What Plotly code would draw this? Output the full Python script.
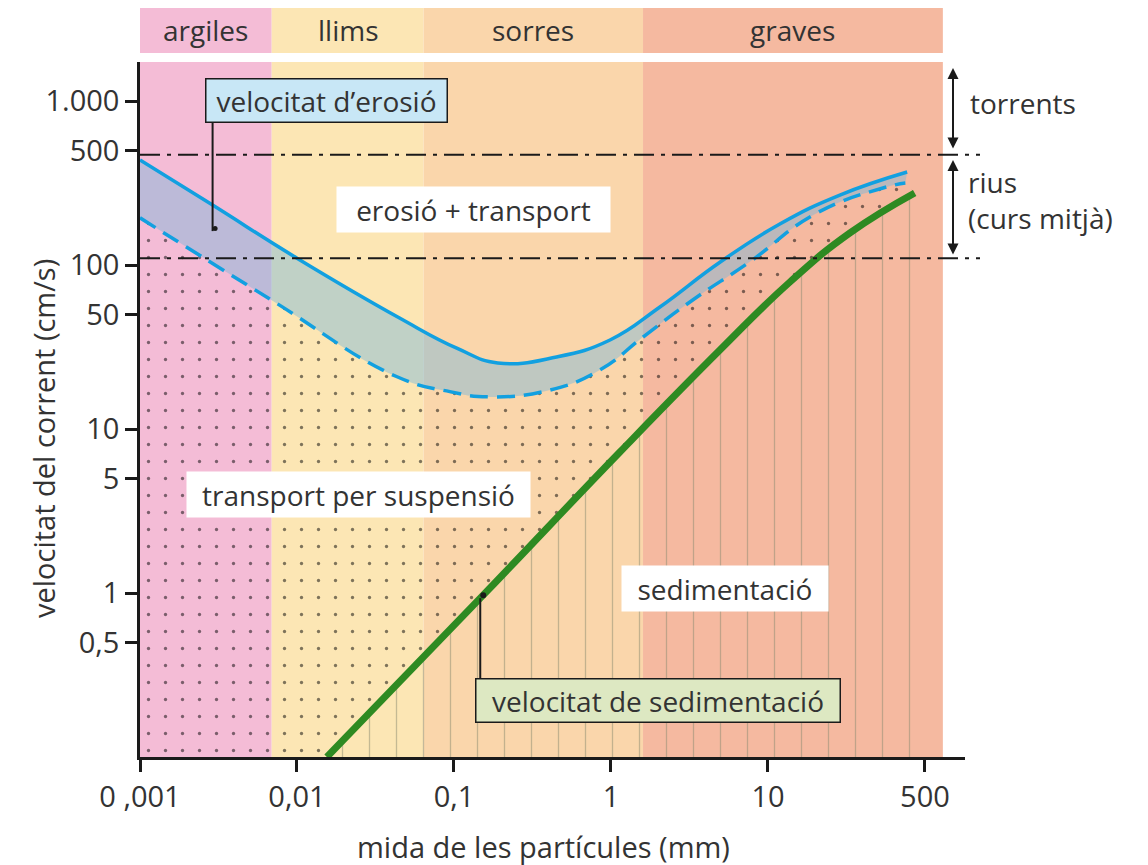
import math
import plotly.graph_objects as go

# ---------------- data ----------------
categories = ["argiles", "llims", "sorres", "graves"]
band_edges = [0.001, 0.0069, 0.064, 1.6, 130]          # mm
band_colors = ["#F4BCD6", "#FCE6B4", "#FAD6AB", "#F5B9A0"]

x_tickvals = [0.001, 0.01, 0.1, 1, 10, 100]
x_ticktext = ["0 ,001", "0,01", "0,1", "1", "10", "500"]
y_tickvals = [1000, 500, 100, 50, 10, 5, 1, 0.5]
y_ticktext = ["1.000", "500", "100", "50", "10", "5", "1", "0,5"]

# erosion velocity (upper, solid blue)
eros_x = [0.001, 0.0029, 0.01, 0.045, 0.105, 0.19, 0.45, 0.986, 2.05, 4.94, 11.9, 28.7, 77]
eros_y = [437, 232, 110, 47.5, 31, 25.3, 27.5, 34.9, 55.5, 104, 178, 267, 369]

# lower limit of erosion (dashed blue)
low_x = [0.001, 0.0069, 0.043, 0.094, 0.17, 0.41, 0.85, 1.6, 3.3, 7.7, 20, 54, 75]
low_y = [194, 61, 20.9, 16.9, 15.7, 17.3, 22.9, 36.4, 61, 105, 205, 295, 316]

# sedimentation velocity (green)
sed_x = [0.0155, 0.147, 1.14, 4.94, 13.8, 33.3, 86]
sed_y = [0.1, 0.93, 7.24, 30.3, 78.8, 157, 275]
hatch_end_x = 96

# river regime limits (dash-dot)
regime_limits = [470, 110]

X_MIN, Y_MIN = 0.001, 0.1
X_RANGE = [-3, 2.255]
Y_RANGE = [-1, 3.238]

FONT = "Open Sans"
TXT = "#333333"
BLUE = "#12A0E0"
GREEN = "#2E8A22"
INK = "#1a1a1a"
SMOOTH = 1.3

# page offset (browser body margin) -> plot area at window px 140..965 x 62..757
OFF = 8
L, T, PW, PH = 140 - OFF, 62 - OFF, 825, 695
W, H = 1140, 857


def px(xw):   # window x pixel -> paper x
    return (xw - 140) / PW


def py(yw):   # window y pixel -> paper y
    return (757 - yw) / PH


fig = go.Figure()

# helper boundary: bottom-left corner + sedimentation line
fig.add_trace(go.Scatter(x=[X_MIN] + sed_x, y=[Y_MIN] + sed_y, mode="lines",
                         line=dict(width=0), hoverinfo="skip", showlegend=False))
# stippled zone below dashed curve, above green line
fig.add_trace(go.Scatter(x=low_x, y=low_y, mode="lines", fill="tonexty",
                         line=dict(width=0, shape="spline", smoothing=SMOOTH),
                         fillcolor="rgba(0,0,0,0)",
                         fillpattern=dict(shape=".", fgcolor="#000000", size=17, solidity=0.03),
                         hoverinfo="skip", showlegend=False))
# band between erosion curves
fig.add_trace(go.Scatter(x=eros_x, y=eros_y, mode="lines", fill="tonexty",
                         line=dict(width=0, shape="spline", smoothing=SMOOTH),
                         fillcolor="rgba(120,185,220,0.45)",
                         hoverinfo="skip", showlegend=False))
# hatched sedimentation zone
fig.add_trace(go.Scatter(x=sed_x + [hatch_end_x, hatch_end_x],
                         y=sed_y + [sed_y[-1], Y_MIN],
                         mode="lines", fill="toself", line=dict(width=0),
                         fillcolor="rgba(0,0,0,0)",
                         fillpattern=dict(shape="|", fgcolor="#8C8C72", size=27, solidity=0.05),
                         hoverinfo="skip", showlegend=False))
# visible lines
fig.add_trace(go.Scatter(x=low_x, y=low_y, mode="lines",
                         line=dict(color=BLUE, width=3.5, shape="spline", smoothing=SMOOTH,
                                   dash="18px,9px"),
                         hoverinfo="skip", showlegend=False))
fig.add_trace(go.Scatter(x=eros_x, y=eros_y, mode="lines",
                         line=dict(color=BLUE, width=3.5, shape="spline", smoothing=SMOOTH),
                         hoverinfo="skip", showlegend=False))
fig.add_trace(go.Scatter(x=sed_x, y=sed_y, mode="lines",
                         line=dict(color=GREEN, width=7, shape="spline", smoothing=SMOOTH),
                         hoverinfo="skip", showlegend=False))

shapes = []
for i, c in enumerate(categories):
    shapes.append(dict(type="rect", xref="x", yref="paper", x0=band_edges[i], x1=band_edges[i + 1],
                       y0=0, y1=1, fillcolor=band_colors[i], line=dict(width=0), layer="below"))
    shapes.append(dict(type="rect", xref="x", yref="paper", x0=band_edges[i], x1=band_edges[i + 1],
                       y0=py(53), y1=py(8), fillcolor=band_colors[i], line=dict(width=0),
                       layer="below"))
for v in regime_limits:
    shapes.append(dict(type="line", xref="paper", yref="y", x0=0, x1=px(980), y0=v, y1=v,
                       line=dict(color=INK, width=2, dash="20px,7px,4px,7px")))
shapes.append(dict(type="line", xref="x", yref="y", x0=0.0029, x1=0.0029, y0=161, y1=735,
                   line=dict(color=INK, width=2)))
shapes.append(dict(type="line", xref="x", yref="y", x0=0.147, x1=0.147, y0=0.93, y1=0.303,
                   line=dict(color=INK, width=2)))
for (ax_, ay_, r) in [(0.0029, 161, 5), (0.147, 0.93, 6)]:
    shapes.append(dict(type="circle", xref="x", yref="y", xsizemode="pixel", ysizemode="pixel",
                       xanchor=ax_, yanchor=ay_, x0=-r, x1=r, y0=-r, y1=r,
                       fillcolor=INK, line=dict(width=0)))

annotations = []
for i, c in enumerate(categories):
    xc = math.log10((band_edges[i] * band_edges[i + 1]) ** 0.5)
    annotations.append(dict(text=c, xref="x", yref="paper", x=xc, y=py(30),
                            xanchor="center", yanchor="middle", showarrow=False,
                            font=dict(family=FONT, size=28, color=TXT)))


def box(text, cx, cy, w, h, bg, border=None):
    d = dict(text=text, xref="paper", yref="paper", x=px(cx), y=py(cy),
             xanchor="center", yanchor="middle",
             showarrow=False, font=dict(family=FONT, size=28, color=TXT),
             bgcolor=bg, width=w, height=h, borderpad=2, align="center", valign="middle")
    if border:
        d.update(bordercolor=border, borderwidth=1.5)
    return d


annotations.append(box("velocitat d’erosió", 326, 101, 236, 38, "#C8E7F6", INK))
annotations.append(box("erosió + transport", 473.5, 209.5, 269, 41, "#FFFFFF"))
annotations.append(box("transport per suspensió", 358.5, 494.5, 339, 41, "#FFFFFF"))
annotations.append(box("sedimentació", 725, 588.5, 202, 41, "#FFFFFF"))
annotations.append(box("velocitat de sedimentació", 657.5, 700, 359, 38, "#DDE8C2", INK))

annotations.append(dict(text="torrents", xref="paper", yref="paper", x=px(968), y=py(103),
                        xanchor="left", yanchor="middle", showarrow=False,
                        font=dict(family=FONT, size=28, color=TXT)))
annotations.append(dict(text="rius<br>(curs mitjà)", xref="paper", yref="paper", x=px(966),
                        y=py(200), xanchor="left", yanchor="middle", align="left",
                        showarrow=False, font=dict(family=FONT, size=28, color=TXT)))
for (ytop, ybot) in [(68, 150), (160, 256)]:
    annotations.append(dict(text="", xref="paper", yref="paper", x=px(953), y=py(ytop),
                            ax=0, ay=ybot - ytop, showarrow=True,
                            arrowside="end+start", arrowhead=2, arrowsize=1.1, arrowwidth=2,
                            arrowcolor=INK))
annotations.append(dict(text="mida de les partícules (mm)", xref="paper", yref="paper",
                        x=px(543), y=py(846), xanchor="center", yanchor="middle",
                        showarrow=False, font=dict(family=FONT, size=29, color=TXT)))
annotations.append(dict(text="velocitat del corrent (cm/s)", xref="paper", yref="paper",
                        x=px(43), y=py(439), xanchor="center", yanchor="middle",
                        textangle=-90, showarrow=False,
                        font=dict(family=FONT, size=29, color=TXT)))

fig.update_layout(
    width=W, height=H,
    margin=dict(l=L, r=W - L - PW, t=T, b=H - T - PH, autoexpand=False),
    paper_bgcolor="white", plot_bgcolor="white",
    shapes=shapes, annotations=annotations,
    showlegend=False, hovermode=False,
    xaxis=dict(type="log", range=X_RANGE, tickvals=x_tickvals, ticktext=x_ticktext,
               ticks="outside", ticklen=12, tickwidth=2.5, tickcolor=INK, automargin=False,
               showline=True, linewidth=2.5, linecolor=INK, showgrid=False, zeroline=False,
               tickfont=dict(family=FONT, size=29, color=TXT)),
    yaxis=dict(type="log", range=Y_RANGE, tickvals=y_tickvals, ticktext=y_ticktext,
               ticks="outside", ticklen=12, tickwidth=2.5, tickcolor=INK, automargin=False,
               showline=True, linewidth=2.5, linecolor=INK, showgrid=False, zeroline=False,
               tickfont=dict(family=FONT, size=29, color=TXT)),
)

fig.write_html("out.html")
